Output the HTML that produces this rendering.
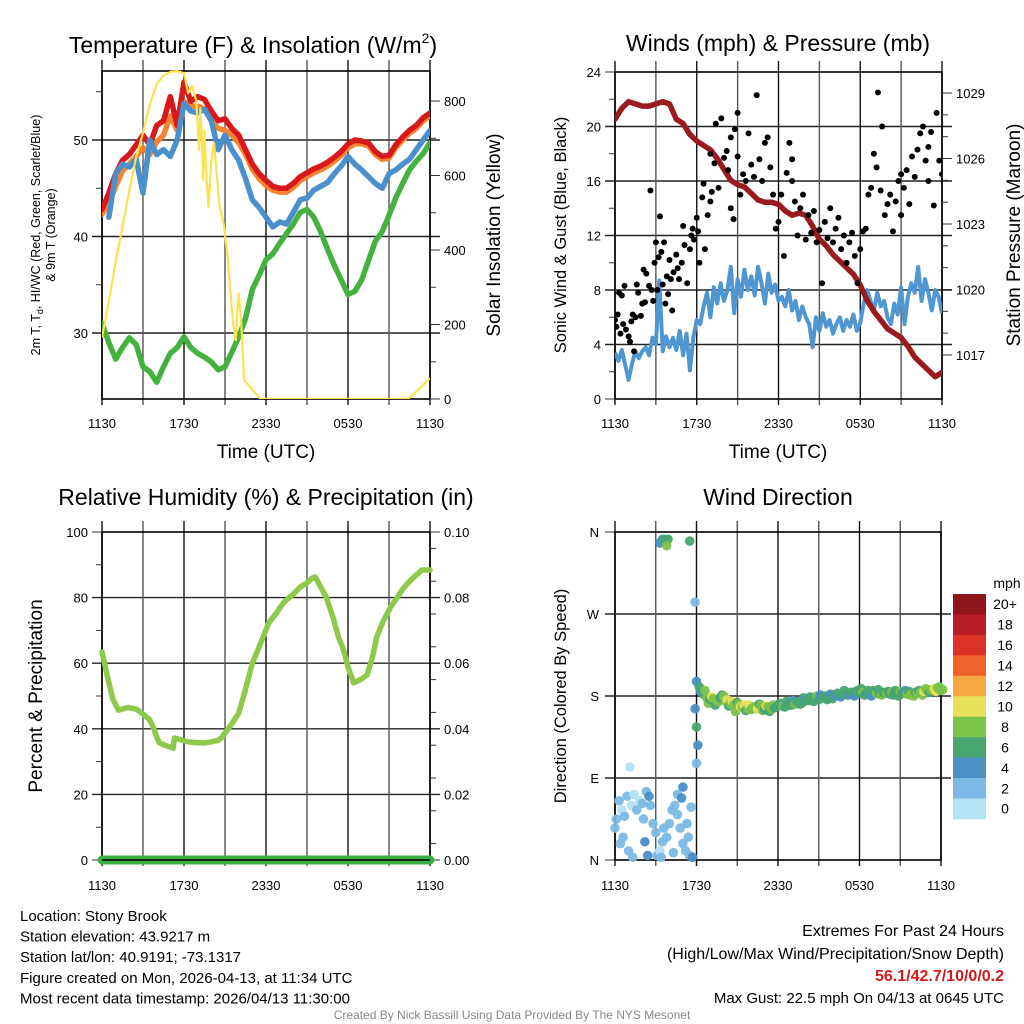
<!DOCTYPE html>
<html><head><meta charset="utf-8"><style>
html,body{margin:0;padding:0;background:#fff;}
svg{display:block;font-family:"Liberation Sans",sans-serif;}
</style></head><body>
<svg id="c" width="1024" height="1024" viewBox="0 0 1024 1024" xmlns="http://www.w3.org/2000/svg"></svg>
<script>
// ---------- DATA ----------
const xTickLabels = ["1130","1730","2330","0530","1130"];
const halfHourT = [];
for (let i = 0; i <= 48; i++) halfHourT.push(i * 0.5);
const tempRed = [42.8,44.5,46.5,47.9,48.5,49.5,50.5,49.5,51.5,52,54.5,51.5,56,54,54.5,54.2,53,52,52.2,51.2,50.5,49,47.5,46.5,45.8,45.2,45,45,45.5,46.2,46.6,47,47.3,47.7,48.2,48.8,49.6,50,49.9,49.7,48.8,48.3,48.4,49.5,50.3,51,51.5,52.3,52.8];
const tempOrange = [42.3,43.5,45.2,46.8,47.5,48.3,49.2,48.5,49.8,50.5,52.5,51,54,53.5,53.5,53.2,52,51.2,51,50.5,49.7,48.5,47,46,45.3,44.8,44.6,44.6,45.1,45.8,46.2,46.6,46.9,47.3,47.8,48.4,49.2,49.6,49.6,49.4,48.5,48,48.1,49.2,50,50.7,51.2,52,52.5];
const tempBlue = [null,42,46.5,47.5,47.2,48,44.5,50,48.5,49,48.3,50,53.8,53,52.8,53.2,52,49,50.5,49,47.9,46,43.8,43,42,41,41.5,41.3,42.5,43.8,44,44.8,45.2,45.6,46.5,47.3,48.3,47.5,46.9,46.2,45.5,45,46.5,46.9,47.5,48,49,50,51];
const dewGreen = [31,29,27.3,28.5,29.5,28.8,26.5,26,24.9,26.5,27.9,28.5,29.6,28.5,27.9,27.5,27,26.2,26.5,28,29.6,31.5,34.5,36,37.6,38.2,39.3,40.3,41.3,42.5,42.8,42,40.5,38.7,37,35.5,34,34.3,35.5,37.5,39.5,40.5,42.2,44,45.5,46.9,47.8,48.6,49.7];
const sunT = [0,0.5,1,1.5,2,2.5,3,3.5,4,4.5,5,5.5,6,6.3,6.6,6.9,7.1,7.2,7.3,7.4,7.5,7.6,7.8,8.0,8.2,8.4,8.6,8.9,9.2,9.4,9.6,9.8,9.9,10.0,10.2,10.4,11,11.6,14,18,22.4,23,24];
const sunV = [166,260,370,462,560,650,714,790,845,868,878,880,875,821,840,800,668,780,700,588,720,620,515,640,687,600,520,472,380,284,200,158,240,284,200,51,25,0,0,0,0,20,56];
const windT = [];
for (let i = 0; i <= 96; i++) windT.push(i * 0.25);
const windBlue = [3.4,2.8,3.6,2.5,1.4,2.6,3.5,3.0,3.5,
3.8,3.2,4.5,4.0,8.7,3.5,4.6,3.8,
4.5,3.6,5.0,3.2,4.8,2.1,4.5,5.8,
5.5,6.8,7.8,6.0,8.2,7.0,8.5,7.2,
8.0,9.7,6.3,8.8,7.5,9.5,8.0,9.0,
7.6,9.7,8.5,7.0,9.2,7.8,8.4,7.2,
7.5,6.8,8.0,6.5,7.2,5.8,6.8,6.0,
5.5,3.8,6.0,5.0,6.3,5.3,5.8,4.8,
5.5,6.0,5.0,5.8,5.3,6.2,5.0,5.6,
7.0,8.0,7.2,6.5,7.8,6.8,7.2,6.0,
5.5,7.0,6.2,8.2,5.5,7.5,8.5,7.8,
9.7,7.2,8.8,7.8,6.5,8.0,7.5,6.3];
const pressure = [1027.8,1028.3,1028.6,1028.5,1028.4,1028.4,1028.5,1028.6,1028.5,1027.8,1027.6,1027.1,1026.8,1026.6,1026.4,1026.0,1025.5,1025.0,1024.8,1024.7,1024.4,1024.1,1024.0,1024.0,1023.9,1023.6,1023.4,1023.5,1023.4,1022.9,1022.3,1022.0,1021.6,1021.3,1021.0,1020.7,1020.2,1019.5,1019.0,1018.6,1018.2,1018.0,1017.8,1017.4,1016.9,1016.6,1016.3,1016.0,1016.2];
const gustT = [0,0.1,0.2,0.3,0.4,0.5,0.6,0.7,0.8,1.0,1.1,1.2,1.3,1.4,1.5,1.6,1.7,1.9,2.0,2.1,2.2,2.3,2.5,2.6,2.7,2.8,2.9,3.0,3.1,3.2,3.3,3.4,3.5,3.6,3.7,3.8,3.9,4.0,4.1,4.2,4.3,4.5,4.6,4.7,4.9,5.0,5.1,5.3,5.5,5.6,5.7,5.8,6.0,6.1,6.2,6.4,6.5,6.6,6.8,7.0,7.1,7.3,7.4,7.6,7.8,8.0,8.2,8.3,8.5,8.7,8.8,9.0,9.2,9.4,9.6,9.8,10.0,10.2,10.4,10.6,10.8,11.0,11.2,11.4,11.6,11.8,12.0,12.2,12.4,12.6,12.8,13.0,13.2,13.4,13.6,13.8,14.0,14.2,14.4,14.6,14.8,15.0,15.2,15.4,15.6,15.8,16.0,16.2,16.4,16.6,16.8,17.0,17.2,17.4,17.6,17.8,18.0,18.2,18.4,18.6,18.8,19.0,19.2,19.3,19.5,19.6,19.8,20.0,20.2,20.4,20.6,20.8,21.0,21.2,21.4,21.6,21.8,22.0,22.2,22.4,22.6,22.8,23.0,23.2,23.4,23.6,23.8,24.0,7.0,9.0,8.5,13.0,21.0,23.0];
const gustV = [5.8,5.3,6.2,7.8,4.8,7.6,5.5,8.3,5.1,4.6,4.2,5.7,6.2,3.5,6.0,8.4,7.8,6.1,7.0,9.5,7.1,9.2,8.3,15.3,8.0,7.2,10.0,11.5,8.0,10.4,13.4,10.8,8.4,11.5,7.0,9.0,7.7,10.2,8.8,6.5,9.3,10.6,9.6,8.8,10.0,12.7,11.3,8.5,11.0,12.0,12.5,11.7,13.3,12.3,10.0,14.8,15.8,11.0,13.5,14.5,15.2,17.3,20.2,15.5,20.6,17.7,18.2,16.8,14.0,13.2,19.8,17.8,15.0,16.5,16.0,19.5,17.2,16.3,22.3,17.6,16.0,18.8,19.2,17.0,15.0,12.5,13.0,15.0,10.5,16.6,18.8,17.6,14.5,12.0,14.0,15.0,11.7,13.5,12.2,13.8,11.5,12.4,8.5,13.0,11.8,14.0,11.5,12.5,13.3,11.0,12.0,10.0,11.5,12.2,10.5,8.5,11.0,12.3,12.5,15.0,15.5,18.0,17.0,22.5,15.3,20.0,13.5,14.3,15.0,12.3,14.5,16.0,13.5,15.5,16.8,14.3,17.8,16.3,18.3,19.5,20.0,17.5,16.0,19.6,14.2,21.0,17.5,16.5,18.0,21.0,19.2,16.0,16.5,18.5];
const rh = [63.4,55.8,49,45.7,46.5,46,44.5,42.7,40,37.5,35.7,35,34.1,37.2,36,35.8,35.7,36,36.5,37.5,38.7,41.5,44.8,52,60,66,72.3,75.5,78,79.3,81,83.2,84.5,86,86.3,80.2,74,68,65,59,54,55,56.4,62,68,73,77,80,82.6];
const rhT = [0,0.4,0.8,1.2,1.9,2.5,3.0,3.5,3.8,4.0,4.2,4.6,5.2,5.3,6.3,6.9,7.5,8.0,8.5,8.8,9.0,9.5,10,10.5,11,11.6,12.2,12.8,13.2,13.5,14,14.5,15,15.4,15.6,16.4,16.9,17.3,17.6,18,18.4,18.9,19.4,19.8,20.1,20.6,21.1,21.6,22.0];
const rhTail = [84.5,86.5,88.4,88.4,88.4];
const rhTailT = [22.4,22.9,23.4,23.7,24];
const precip = [0,0];
const precipT = [0,24];
const dirEarlyT = [0,0.1,0.3,0.5,0.7,0.9,1.2,1.4,1.6,1.8,2.0,2.1,2.3,2.5,2.6,2.8,3.0,3.1,3.3,3.5,3.6,3.8,4.0,4.2,4.4,4.6,4.8,5.0,5.2,5.4,5.6,0.4,0.6,1.0,1.3,2.2,2.4,3.4,4.3,5.5,5.7,1.1,5.0,4.6,4.9,5.3,3.3,3.5,3.6,3.9,3.8,5.5,5.9,6.0,6.1,6.0,5.9,6.0,6.3,6.2];
const dirEarlyD = [35,45,65,55,48,70,60,72,55,65,62,45,75,70,60,40,30,5,10,20,35,25,40,55,60,50,35,18,10,25,58,18,25,10,3,20,5,3,8,5,3,102,80,72,68,40,348,352,352,352,345,350,283,106,126,146,166,196,185,190];
const dirEarlyS = [3,2,2,1.5,3,2,1.5,1.5,2.5,1.5,3,3,3.5,4.5,3,3.5,3,3,1.5,3,3,3,3,3,2,3,3,3,3,3,2.5,3.5,2,2,3,4,4,3.5,3,3,4,1,4,3.5,4,2.5,4,4.5,6.5,6,9,7,2,2,4,6,4,4,5,6];
const bandT0 = 6.5;
const bandDirA = [182,178,176,177,175,178,180,176,172,170,173,168,170,166,165,168,166,170,165,168,166,167,169,170,168,172,170,171,173,172,176,175,178,177,176,179,180,178,177,180,181,182,183,182,184,185,183,184,183,182,186,183,182,184,183,182,181,183,185,184,182,181,180,183,184,185,186,187,188,189,186];
const bandSpdA = [7,8,7,9,8,7,8,10,8,9,7,10,11,8,9,8,10,9,7,8,9,7,6,7,6,7,6,8,7,6,5,6,7,7,6,5,7,6,7,5,7,6,7,4,6,7,6,8,7,6,7,8,6,7,8,7,6,7,8,7,8,9,8,8,9,10,8,9,11,8,9];
const bandDirB = [186,172,179,170,174,181,175,169,174,163,171,168,164,170,167,166,171,164,169,163,170,168,172,169,174,170,175,174,171,178,175,179,174,180,181,178,176,182,180,183,179,186,181,184,180,186,188,181,186,180,185,187,181,183,185,184,186,180,183,186,185,182,184,186,181,188,184,187,185,190,187];
const bandSpdB = [8,9,10,7,8,6,9,7,11,8,9,8,7,10,8,9,7,8,10,7,8,6,7,8,6,7,5,7,6,7,6,7,6,8,5,7,6,4,6,6,5,7,6,7,5,6,7,6,7,5,7,6,8,7,6,8,7,6,7,5,7,8,7,7,9,8,6,8,10,8,9];
const speedColors = ["#b4e2f6","#7cb9e4","#4a8fc6","#48a571","#7bc24b","#e6e05a","#f5a843","#f0622b","#dc3328","#b81c24","#8e161a"];
const speedLabels = ["0","2","4","6","8","10","12","14","16","18","20+"];

// ---------- HELPERS ----------
const NS = "http://www.w3.org/2000/svg";
const svg = document.getElementById('c');
function mk(tag, attrs, parent) {
  const e = document.createElementNS(NS, tag);
  for (const k in attrs) e.setAttribute(k, attrs[k]);
  (parent || svg).appendChild(e);
  return e;
}
function txt(s, x, y, size, anchor, parent, extra) {
  const e = mk('text', Object.assign({x: x, y: y, 'font-size': size, 'text-anchor': anchor || 'middle', fill: '#000'}, extra || {}), parent);
  e.textContent = s;
  return e;
}
function scale(d0, d1, r0, r1) { return v => r0 + (v - d0) / (d1 - d0) * (r1 - r0); }
function pathFrom(ts, vs, sx, sy) {
  let d = "", pen = false;
  for (let i = 0; i < ts.length; i++) {
    if (vs[i] === null) { pen = false; continue; }
    d += (pen ? "L" : "M") + sx(ts[i]).toFixed(1) + "," + sy(vs[i]).toFixed(1);
    pen = true;
  }
  return d;
}
function frame(g, x0, x1, y0, y1) {
  // vertical gridlines every 3h with outward ticks
  for (let i = 0; i <= 8; i++) {
    const x = x0 + (x1 - x0) * i / 8;
    const l = mk('line', {x1: x, x2: x, y1: y0 - 11, y2: y1 + 6, stroke: i % 2 ? '#555' : '#111', 'stroke-width': 1.4}, g);
    
    
  }
  const b = mk('rect', {x: x0, y: y0, width: x1 - x0, height: y1 - y0, fill: 'none', stroke: '#000', 'stroke-width': 1.6}, g);
  
  
}
function hgrid(g, x0, x1, ys) {
  ys.forEach(y => {
    const l = mk('line', {x1: x0 - 10, x2: x1 + 10, y1: y, y2: y, stroke: '#222', 'stroke-width': 1.4}, g);
    
    
  });
}
function tick(g, x, y, len) {
  mk('line', {x1: x, x2: x + len, y1: y, y2: y, stroke: '#333', 'stroke-width': 1}, g);
}
function xLabels(g, sx, y) {
  xTickLabels.forEach((s, i) => {
    const t = txt(s, sx(i * 6), y, 13, 'middle', g);
    
    
  });
}
function rot(s, x, y, size, g, name) {
  const t = txt(s, 0, 0, size, 'middle', g, {transform: `translate(${x},${y}) rotate(-90)`});
  
  
  return t;
}

// ---------- PANEL 1: Temperature ----------
{
  const g = mk('g', {});
  
  
  const x0 = 102, x1 = 430, y0 = 71, y1 = 399;
  const sx = scale(0, 24, x0, x1);
  const sy = scale(50, 30, 140, 333);
  const sr = scale(0, 800, 399, 101);
  hgrid(g, x0, x1, [sy(50), sy(40), sy(30)]);
  frame(g, x0, x1, y0, y1);
  [35, 45, 55].forEach(v => tick(g, x0, sy(v), -6));
  [100, 300, 500, 700].forEach(v => tick(g, x1, sr(v), 6));
  [0, 200, 400, 600, 800].forEach(v => tick(g, x1, sr(v), 10));
  const clip = mk('clipPath', {id: 'cp1'}, g);
  mk('rect', {x: x0, y: y0 - 3, width: x1 - x0, height: y1 - y0 + 3}, clip);
  const lg = mk('g', {'clip-path': 'url(#cp1)'}, g);
  const series = [[dewGreen, '#45b13f', 'dewpoint-line'], [tempOrange, '#f58430', 'temp-9m-line'], [tempRed, '#d7191c', 'temp-2m-line'], [tempBlue, '#4a90cc', 'heat-index-windchill-line']];
  series.forEach(s => {
    const p = mk('path', {d: pathFrom(halfHourT, s[0], sx, sy), fill: 'none', stroke: s[1], 'stroke-width': 5.5, 'stroke-linejoin': 'round', 'stroke-linecap': 'round'}, lg);
    
    
  });
  const sp = mk('path', {d: pathFrom(sunT, sunV, sx, sr), fill: 'none', stroke: '#fde24f', 'stroke-width': 2.2, 'stroke-linejoin': 'round'}, lg);
  
  
  [30, 40, 50].forEach(v => { const t = txt(String(v), x0 - 14, sy(v) + 5, 13, 'end', g);   });
  [0, 200, 400, 600, 800].forEach(v => { const t = txt(String(v), x1 + 14, sr(v) + 5, 13, 'start', g);   });
  xLabels(g, sx, 428);
  const ti = txt('Temperature (F) & Insolation (W/m', 253, 53, 23, 'middle', g);
  
  
  const ts = mk('tspan', {'font-size': 14, dy: -10}, ti); ts.textContent = '2';
  const ts2 = mk('tspan', {dy: 10}, ti); ts2.textContent = ')';
  const xt = txt('Time (UTC)', 266, 458, 19, 'middle', g);
  
  
  const l1 = rot('', 40, 235, 12.5, g, 'y-axis-title');
  l1.textContent = '2m T, T';
  const sub = mk('tspan', {'font-size': 9, dy: 3}, l1); sub.textContent = 'd';
  const rest = mk('tspan', {dy: -3}, l1); rest.textContent = ', HI/WC (Red, Green, Scarlet/Blue)';
  rot('& 9m T (Orange)', 55, 235, 12.5, g, 'y-axis-title-line2');
  rot('Solar Insolation (Yellow)', 500, 235, 19, g, 'y2-axis-title');
}

// ---------- PANEL 2: Winds ----------
{
  const g = mk('g', {});
  
  
  const x0 = 615, x1 = 942, y0 = 72, y1 = 399;
  const sx = scale(0, 24, x0, x1);
  const sy = scale(0, 24, y1, y0);
  const sp = scale(1017, 1029, 355, 93);
  hgrid(g, x0, x1, [4, 8, 12, 16, 20].map(sy));
  frame(g, x0, x1, y0, y1);
  [2, 6, 10, 14, 18, 22].forEach(v => tick(g, x0, sy(v), -6));
  [0, 24].forEach(v => tick(g, x0, sy(v), -10));
  [1018, 1019, 1021, 1022, 1024, 1025, 1027, 1028].forEach(v => tick(g, x1, sp(v), 6));
  [1017, 1020, 1023, 1026, 1029].forEach(v => tick(g, x1, sp(v), 10));
  const clip = mk('clipPath', {id: 'cp2'}, g);
  mk('rect', {x: x0, y: y0, width: x1 - x0, height: y1 - y0}, clip);
  const lg = mk('g', {'clip-path': 'url(#cp2)'}, g);
  const wb = mk('path', {d: pathFrom(windT, windBlue, sx, sy), fill: 'none', stroke: '#4f96d2', 'stroke-width': 4, 'stroke-linejoin': 'round'}, lg);
  
  
  const pp = mk('path', {d: pathFrom(halfHourT, pressure, sx, sp), fill: 'none', stroke: '#9a1b1e', 'stroke-width': 5.5, 'stroke-linejoin': 'round', 'stroke-linecap': 'round'}, lg);
  
  
  for (let i = 0; i < gustT.length; i++) {
    const c = mk('circle', {cx: sx(gustT[i]), cy: sy(gustV[i]), r: 3, fill: '#000'}, lg);
    
    
  }
  [0, 4, 8, 12, 16, 20, 24].forEach(v => { const t = txt(String(v), x0 - 14, sy(v) + 5, 13, 'end', g);   });
  [1017, 1020, 1023, 1026, 1029].forEach(v => { const t = txt(String(v), x1 + 14, sp(v) + 5, 13, 'start', g);   });
  xLabels(g, sx, 428);
  const ti = txt('Winds (mph) & Pressure (mb)', 778, 51, 23, 'middle', g);
  
  
  const xt = txt('Time (UTC)', 778, 458, 19, 'middle', g);
  
  
  rot('Sonic Wind & Gust (Blue, Black)', 566, 235, 16.5, g, 'y-axis-title');
  rot('Station Pressure (Maroon)', 1020, 235, 19, g, 'y2-axis-title');
}

// ---------- PANEL 3: RH ----------
{
  const g = mk('g', {});
  
  
  const x0 = 102, x1 = 430, y0 = 532, y1 = 860;
  const sx = scale(0, 24, x0, x1);
  const sy = scale(0, 100, y1, y0);
  const sq = scale(0, 0.1, y1, y0);
  hgrid(g, x0, x1, [20, 40, 60, 80].map(sy));
  frame(g, x0, x1, y0, y1);
  [10, 30, 50, 70, 90].forEach(v => tick(g, x0, sy(v), -6));
  [0, 100].forEach(v => tick(g, x0, sy(v), -10));
  [0.005,0.015,0.025,0.035,0.045,0.055,0.065,0.075,0.085,0.095].forEach(v => tick(g, x1, sq(v), 6));
  [0, 0.1].forEach(v => tick(g, x1, sq(v), 10));
  const rp = mk('path', {d: pathFrom(rhT.concat(rhTailT), rh.concat(rhTail), sx, sy), fill: 'none', stroke: '#8dc94b', 'stroke-width': 5.5, 'stroke-linejoin': 'round', 'stroke-linecap': 'round'}, g);
  
  
  const pr = mk('path', {d: pathFrom(precipT, precip, sx, sq), fill: 'none', stroke: '#3fae44', 'stroke-width': 9, 'stroke-linecap': 'round'}, g);
  
  
  mk('line', {x1: x0, x2: x1, y1: y1, y2: y1, stroke: '#000', 'stroke-width': 1.4}, g);
  [0, 20, 40, 60, 80, 100].forEach(v => { const t = txt(String(v), x0 - 14, sy(v) + 5, 13, 'end', g);   });
  [0, 0.02, 0.04, 0.06, 0.08, 0.1].forEach(v => { const t = txt(v.toFixed(2), x1 + 14, sq(v) + 5, 13, 'start', g);   });
  xLabels(g, sx, 890);
  const ti = txt('Relative Humidity (%) & Precipitation (in)', 266, 505, 23, 'middle', g);
  
  
  rot('Percent & Precipitation', 42, 696, 19, g, 'y-axis-title');
}

// ---------- PANEL 4: Wind Direction ----------
{
  const g = mk('g', {});
  
  
  const x0 = 615, x1 = 941, y0 = 532, y1 = 860;
  const sx = scale(0, 24, x0, x1);
  const sy = scale(0, 360, y1, y0);
  hgrid(g, x0, x1, [90, 180, 270].map(sy));
  frame(g, x0, x1, y0, y1);
  [0, 360].forEach(v => tick(g, x0, sy(v), -10));
  const col = s => speedColors[Math.min(10, Math.floor(s / 2))];
  function dot(t, d, s) {
    const c = mk('circle', {cx: sx(t), cy: sy(d), r: 4.8, fill: col(s), 'fill-opacity': 0.95}, g);
    
    
  }
  for (let i = 0; i < dirEarlyT.length; i++) dot(dirEarlyT[i], dirEarlyD[i], dirEarlyS[i]);
  for (let i = 0; i < bandDirA.length; i++) {
    dot(bandT0 + i * 0.25, bandDirA[i], bandSpdA[i]);
    dot(bandT0 + 0.125 + i * 0.25, bandDirB[i], bandSpdB[i]);
  }
  ['N', 'E', 'S', 'W', 'N'].forEach((s, i) => { const t = txt(s, x0 - 16, sy(i * 90) + 5, 13, 'end', g);   });
  xLabels(g, sx, 890);
  const ti = txt('Wind Direction', 778, 505, 23, 'middle', g);
  
  
  rot('Direction (Colored By Speed)', 566, 696, 16.5, g, 'y-axis-title');
  // colorbar
  const cb = mk('g', {}, g);
  
  
  const bh = 20.45, top = 594;
  for (let i = 0; i < 11; i++) {
    const r = mk('rect', {x: 953, y: top + i * bh, width: 33, height: bh + 0.3, fill: speedColors[10 - i]}, cb);
    
    
    const t = txt(speedLabels[10 - i], 1005, top + i * bh + bh / 2 + 5, 14, 'middle', cb);
    
    
  }
  const u = txt('mph', 1007, 588, 14, 'middle', cb);
  
  
}

// ---------- FOOTER TEXT ----------
{
  const g = mk('g', {});
  
  
  ['Location: Stony Brook', 'Station elevation: 43.9217 m', 'Station lat/lon: 40.9191; -73.1317', 'Figure created on Mon, 2026-04-13, at 11:34 UTC', 'Most recent data timestamp: 2026/04/13 11:30:00'].forEach((s, i) => {
    const t = txt(s, 20, 921 + i * 20.6, 15, 'start', g);
    
    
  });
  const r = mk('g', {});
  
  
  txt('Extremes For Past 24 Hours', 1004, 936, 16, 'end', r);
  txt('(High/Low/Max Wind/Precipitation/Snow Depth)', 1004, 959, 16, 'end', r);
  txt('56.1/42.7/10/0/0.2', 1004, 981, 16, 'end', r, {fill: '#d01c1f', 'font-weight': 'bold'});
  txt('Max Gust: 22.5 mph On 04/13 at 0645 UTC', 1004, 1003, 15, 'end', r);
  const f = txt('Created By Nick Bassill Using Data Provided By The NYS Mesonet', 512, 1019, 12, 'middle', svg, {fill: '#888'});
  
  
}
</script>
</body></html>
